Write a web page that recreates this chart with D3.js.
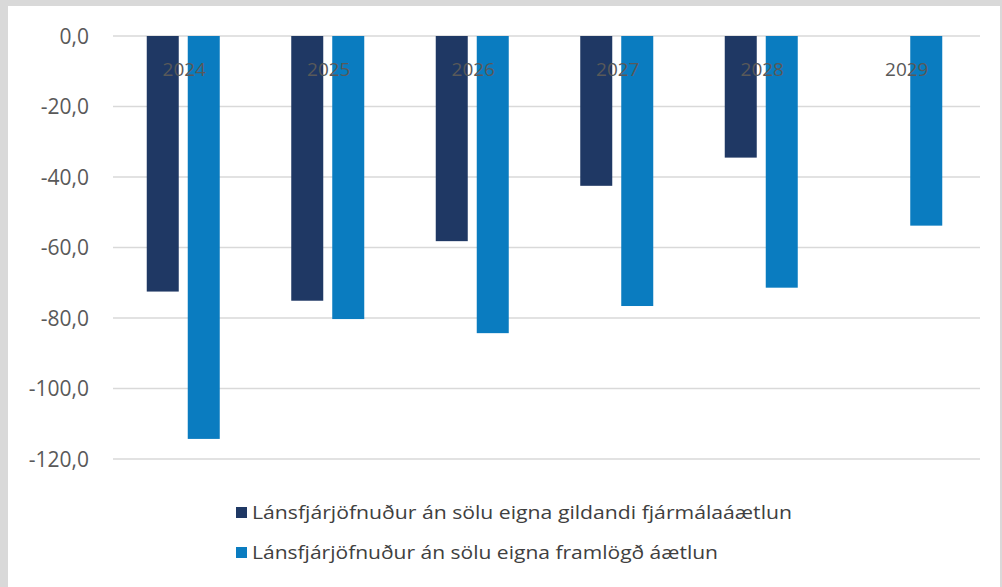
<!DOCTYPE html>
<html><head><meta charset="utf-8">
<script src="https://cdn.jsdelivr.net/npm/d3@7/dist/d3.min.js"></script>
<style>
html,body{margin:0;padding:0;background:#d9d9d9;}
svg{display:block;}
</style></head>
<body>
<svg id="chart" width="1002" height="587"></svg>
<script>
const categories = ["2024","2025","2026","2027","2028","2029"];
const seriesNames = ["Lánsfjárjöfnuður án sölu eigna gildandi fjármálaáætlun","Lánsfjárjöfnuður án sölu eigna framlögð áætlun"];
const gildandi = [-72.5, -75.1, -58.2, -42.5, -34.5, null];
const framlogd = [-114.3, -80.3, -84.3, -76.6, -71.4, -53.8];
const yTicks = [0, -20, -40, -60, -80, -100, -120];
const colors = ["#1f3864", "#0a7cc0"];

const svg = d3.select("#chart");
svg.append("rect").attr("x",8).attr("y",6).attr("width",992).attr("height",581).attr("fill","#ffffff");

const plot = {left:113, right:980, top:36, bottom:459};
const x = d3.scaleBand().domain(categories).range([plot.left, plot.right]).paddingInner(0).paddingOuter(0);
const y = d3.scaleLinear().domain([0,-120]).range([plot.top, plot.bottom]);
const barW = 32, gap = 9;

const fmt = v => d3.format(".1f")(v).replace("−","-").replace(".",",");

// gridlines
svg.append("g").selectAll("line").data(yTicks).join("line")
  .attr("x1",plot.left).attr("x2",plot.right)
  .attr("y1",d=>y(d)).attr("y2",d=>y(d))
  .attr("stroke","#d9d9d9").attr("stroke-width",1.3);

// y axis labels
const yAxis = d3.axisLeft(y).tickValues(yTicks).tickFormat(fmt).tickSize(0).tickPadding(0);
const ga = svg.append("g").attr("transform",`translate(89,0)`).call(yAxis);
ga.select(".domain").remove();
ga.selectAll("text").attr("font-family","Open Sans, sans-serif").attr("font-size",21).attr("fill","#595959").attr("dy","0.34em");

const series = [gildandi, framlogd];
series.forEach((vals,si)=>{
  svg.append("g").selectAll("rect").data(categories.map((c,i)=>({c, v:vals[i]})).filter(d=>d.v!=null)).join("rect")
    .attr("x",d=>x(d.c)+x.bandwidth()/2 - 2 - (barW+gap/2) + si*(barW+gap) )
    .attr("y",y(0))
    .attr("width",barW)
    .attr("height",d=>y(d.v)-y(0))
    .attr("fill",colors[si]);
});

// category labels (drawn over bars, as in the reference)
svg.append("g").selectAll("text").data(categories).join("text")
  .attr("x",d=>x(d)+x.bandwidth()/2 - 1).attr("y",76)
  .attr("text-anchor","middle")
  .attr("font-family","Open Sans, sans-serif").attr("font-size",19).attr("fill","#595959")
  .text(d=>d);

// legend
const leg = svg.append("g");
const legW = [540, 466];
seriesNames.forEach((n,i)=>{
  const yy = 513 + i*40;
  leg.append("rect").attr("x",236).attr("y",yy-6).attr("width",11).attr("height",11).attr("fill",colors[i]);
  leg.append("text").attr("x",252).attr("y",yy+6)
    .attr("font-family","Open Sans, sans-serif").attr("font-size",19).attr("fill","#404040")
    .attr("textLength",legW[i]).attr("lengthAdjust","spacingAndGlyphs")
    .text(n);
});
</script>
</body></html>
